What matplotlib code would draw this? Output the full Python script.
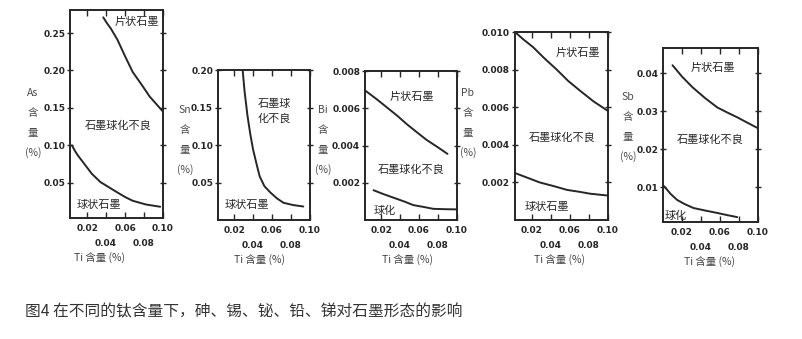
import numpy as np
import matplotlib.pyplot as plt

plt.rcParams['font.family'] = ['Noto Sans CJK SC', 'DejaVu Sans']

# element on the y axis of each panel
elements = ["As", "Sn", "Bi", "Pb", "Sb"]

# Ti content (x) and element content (y) for the boundary curves
as_upper_x = [0.037, 0.041, 0.045, 0.052, 0.060, 0.068, 0.078, 0.086, 0.093, 0.100]
as_upper_y = [0.271, 0.263, 0.256, 0.241, 0.219, 0.198, 0.180, 0.165, 0.155, 0.145]
as_lower_x = [0.004, 0.007, 0.010, 0.016, 0.025, 0.034, 0.043, 0.052, 0.060, 0.068, 0.082, 0.097]
as_lower_y = [0.100, 0.093, 0.087, 0.077, 0.062, 0.051, 0.044, 0.037, 0.031, 0.026, 0.021, 0.018]

sn_x = [0.029, 0.031, 0.034, 0.037, 0.040, 0.044, 0.047, 0.052, 0.058, 0.065, 0.072, 0.082, 0.093]
sn_y = [0.200, 0.172, 0.140, 0.115, 0.094, 0.073, 0.058, 0.045, 0.037, 0.029, 0.023, 0.020, 0.018]

bi_upper_x = [0.003, 0.015, 0.026, 0.037, 0.047, 0.058, 0.068, 0.080, 0.090]
bi_upper_y = [0.00696, 0.0065, 0.00605, 0.0056, 0.00515, 0.0047, 0.0043, 0.0039, 0.00355]
bi_lower_x = [0.012, 0.022, 0.033, 0.044, 0.054, 0.065, 0.075, 0.088, 0.100]
bi_lower_y = [0.0016, 0.0014, 0.0012, 0.0010, 0.0008, 0.0007, 0.0006, 0.00058, 0.00057]

pb_upper_x = [0.002, 0.011, 0.021, 0.033, 0.046, 0.058, 0.070, 0.085, 0.100]
pb_upper_y = [0.0100, 0.0096, 0.0092, 0.0086, 0.0080, 0.0074, 0.0069, 0.0063, 0.0058]
pb_lower_x = [0.002, 0.015, 0.028, 0.043, 0.057, 0.070, 0.081, 0.100]
pb_lower_y = [0.0025, 0.00225, 0.0020, 0.0018, 0.0016, 0.0015, 0.0014, 0.0013]

sb_upper_x = [0.010, 0.020, 0.031, 0.044, 0.057, 0.068, 0.078, 0.090, 0.100]
sb_upper_y = [0.0421, 0.0391, 0.0363, 0.0335, 0.0310, 0.0296, 0.0284, 0.0268, 0.0255]
sb_lower_x = [0.000, 0.004, 0.008, 0.015, 0.023, 0.032, 0.045, 0.057, 0.068, 0.078]
sb_lower_y = [0.0105, 0.0094, 0.0082, 0.0066, 0.0055, 0.0045, 0.0038, 0.0032, 0.0026, 0.0021]

curves = [
    [(as_upper_x, as_upper_y), (as_lower_x, as_lower_y)],
    [(sn_x, sn_y)],
    [(bi_upper_x, bi_upper_y), (bi_lower_x, bi_lower_y)],
    [(pb_upper_x, pb_upper_y), (pb_lower_x, pb_lower_y)],
    [(sb_upper_x, sb_upper_y), (sb_lower_x, sb_lower_y)],
]

y_ticks = [
    [0.05, 0.10, 0.15, 0.20, 0.25],
    [0.05, 0.10, 0.15, 0.20],
    [0.002, 0.004, 0.006, 0.008],
    [0.002, 0.004, 0.006, 0.008, 0.010],
    [0.01, 0.02, 0.03, 0.04],
]
y_ticklabels = [
    ["0.05", "0.10", "0.15", "0.20", "0.25"],
    ["0.05", "0.10", "0.15", "0.20"],
    ["0.002", "0.004", "0.006", "0.008"],
    ["0.002", "0.004", "0.006", "0.008", "0.010"],
    ["0.01", "0.02", "0.03", "0.04"],
]
x_ticks_row1 = [0.02, 0.06, 0.10]
x_ticks_row2 = [0.04, 0.08]

# region names: text, x, y in data coordinates
regions = [
    [("片状石墨", 0.072, 0.265), ("石墨球化不良", 0.053, 0.127), ("球状石墨", 0.032, 0.020)],
    [("石墨球\n化不良", 0.062, 0.145), ("球状石墨", 0.034, 0.020)],
    [("片状石墨", 0.052, 0.0066), ("石墨球化不良", 0.052, 0.0027), ("球化", 0.024, 0.0005)],
    [("片状石墨", 0.068, 0.0089), ("石墨球化不良", 0.052, 0.0044), ("球状石墨", 0.036, 0.0007)],
    [("片状石墨", 0.052, 0.0415), ("石墨球化不良", 0.050, 0.0225), ("球化", 0.013, 0.0025)],
]

y_limits = [(0.003, 0.281), (0.0, 0.20), (0.0, 0.008), (0.0, 0.010), (0.0008, 0.0466)]
x_limits = [(0.002, 0.10), (0.003, 0.10), (0.003, 0.10), (0.002, 0.10), (0.0, 0.10)]

# axes boxes [left, bottom, width, height] in figure fractions
boxes = [
    [0.0873, 0.357, 0.116, 0.614],
    [0.2718, 0.351, 0.1147, 0.4425],
    [0.4551, 0.351, 0.1147, 0.4395],
    [0.6421, 0.351, 0.116, 0.5546],
    [0.8267, 0.345, 0.1185, 0.513],
]
# position of the stacked y label (x in px, y of first line in px)
ylabel_pos = [(33, 93), (185, 110), (323, 110), (468, 93), (628, 97)]
xlabel_pos = [(100, 258), (260, 260), (408, 260), (560, 260), (710, 262)]

W, H = 802, 339
ink = "#262626"

fig = plt.figure(figsize=(W / 100, H / 100), dpi=100)

for i, el in enumerate(elements):
    ax = fig.add_axes(boxes[i])
    for xs, ys in curves[i]:
        ax.plot(xs, ys, color=ink, lw=1.4, solid_capstyle="round", solid_joinstyle="round")
    ax.set_xlim(*x_limits[i])
    ax.set_ylim(*y_limits[i])
    for s in ax.spines.values():
        s.set_color(ink)
        s.set_linewidth(1.4)

    ax.set_yticks(y_ticks[i])
    ax.set_yticklabels(y_ticklabels[i], fontsize=6.5, fontweight="bold", color=ink,
                       family="DejaVu Sans")
    ax.tick_params(axis="y", which="major", direction="inout", length=5, width=1,
                   color=ink, right=True, pad=1)
    ax.set_xticks(x_ticks_row1)
    ax.set_xticklabels(["0.02", "0.06", "0.10"], fontsize=6.5, fontweight="bold",
                       color=ink, family="DejaVu Sans")
    ax.set_xticks(x_ticks_row2, minor=True)
    ax.set_xticklabels(["0.04", "0.08"], minor=True, fontsize=6.5, fontweight="bold",
                       color=ink, family="DejaVu Sans")
    ax.tick_params(axis="x", which="major", direction="in", length=4, width=1,
                   color=ink, top=True, pad=4)
    ax.tick_params(axis="x", which="minor", direction="in", length=4, width=1,
                   color=ink, top=True, pad=15)

    for txt, tx, ty in regions[i]:
        ax.text(tx, ty, txt, fontsize=8, color=ink, ha="center", va="center",
                linespacing=1.5)

    lx, ly = ylabel_pos[i]
    for k, part in enumerate([el, "含", "量", "(%)"]):
        fig.text(lx / W, 1 - (ly + 20 * k) / H, part, fontsize=7.5, color="#4a4a4a",
                 ha="center", va="center")
    bx, by = xlabel_pos[i]
    fig.text(bx / W, 1 - by / H, "Ti 含量 (%)", fontsize=7.5, color="#444444",
             ha="center", va="center")

fig.text(25 / W, 1 - 312 / H, "图4 在不同的钛含量下，砷、锡、铋、铅、锑对石墨形态的影响",
         fontsize=11.3, color="#333333", ha="left", va="center")

fig.savefig("out.png", dpi=100, facecolor="white")
